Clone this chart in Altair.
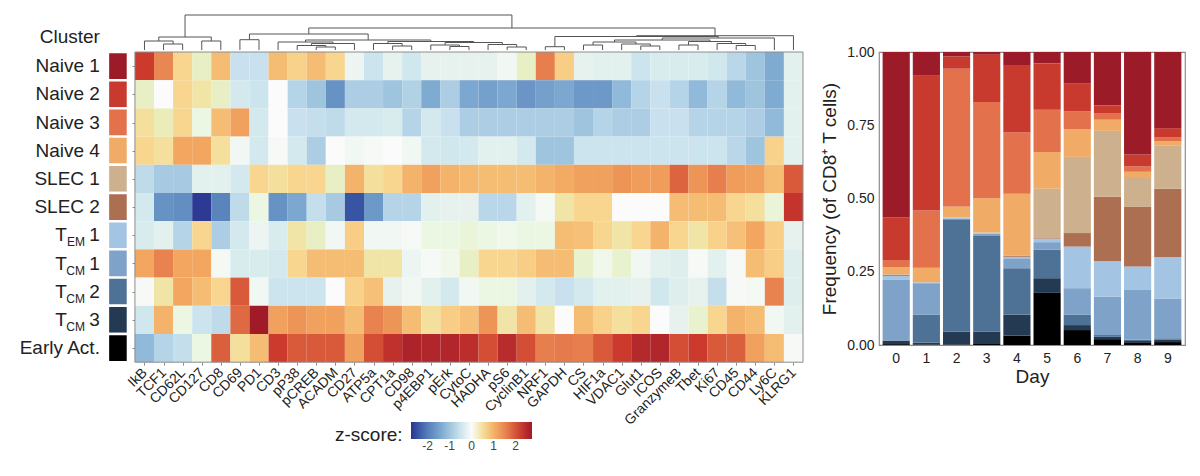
import altair as alt
import pandas as pd

FONT = "Liberation Sans"
INK = "#222222"
FRAME = "#8C8C8C"

# --- heatmap -----------------------------------------------------------------
MARKERS = ["IkB", "TCF1", "CD62L", "CD127", "CD8", "CD69", "PD1", "CD3", "pP38", "pCREB",
           "ACADM", "CD27", "ATP5a", "CPT1a", "CD98", "p4EBP1", "pErk", "CytoC", "HADHA",
           "pS6", "CyclinB1", "NRF1", "GAPDH", "CS", "HIF1a", "VDAC1", "Glut1", "ICOS",
           "GranzymeB", "Tbet", "Ki67", "CD45", "CD44", "Ly6C", "KLRG1"]

CLUSTERS = ["Naive 1", "Naive 2", "Naive 3", "Naive 4", "SLEC 1", "SLEC 2",
            "TEM 1", "TCM 1", "TCM 2", "TCM 3", "Early Act."]
CLUSTER_COLORS = ["#9B1B28", "#C73A2D", "#E2714C", "#F0AB66", "#CDB18F", "#AD6F51",
                  "#A4C4E4", "#7FA2C9", "#4E7196", "#243A53", "#000000"]
# row labels: main text + subscript (T_EM / T_CM)
LABEL_MAIN = ["Naive 1", "Naive 2", "Naive 3", "Naive 4", "SLEC 1", "SLEC 2",
              "1", "1", "2", "3", "Early Act."]
LABEL_SUB = ["", "", "", "", "", "", "EM", "CM", "CM", "CM", ""]

Z_NAIVE1 = [2.2, 1.5, 0.6, 0.3, 0.9, -0.55, -0.55, 0.9, 0.65, 0.9, 0.6, -0.15,
            -0.5, -0.2, -0.45, -0.2, -0.2, -0.2, -0.2, -0.1, 0.3, 1.6, 0.7, -0.2,
            -0.25, -0.25, -0.5, -0.35, -0.35, -0.35, -0.45, -0.7, -1.0, -1.35, -0.25]
Z_NAIVE2 = [0.3, 0.0, 0.6, 0.45, 0.3, -0.4, -0.5, 0.0, -0.75, -1.0, -1.7, -0.85,
            -0.85, -1.0, -0.8, -1.35, -0.85, -1.4, -1.5, -1.4, -1.65, -1.5, -1.4, -1.6,
            -1.6, -1.15, -0.75, -0.55, -0.75, -1.15, -0.75, -1.15, -1.0, -1.35, -0.25]
Z_NAIVE3 = [0.5, 0.35, 0.6, 0.15, 0.9, 1.2, -0.4, 0.0, -0.55, -0.6, -0.65, -0.4,
            -0.4, -0.35, -0.75, -0.4, -0.55, -0.85, -0.85, -0.85, -0.85, -0.85, -0.85, -1.0,
            -0.75, -0.85, -0.85, -0.55, -0.55, -0.75, -0.75, -0.75, -0.85, -1.15, -0.25]
Z_NAIVE4 = [0.6, 0.5, 1.15, 1.15, 0.5, -0.1, -0.4, -0.05, -0.4, -0.85, 0.0, -0.1,
            -0.05, 0.0, -0.1, -0.4, -0.45, -0.4, -0.25, -0.25, -0.4, -1.0, -1.0, -0.5,
            -0.5, -0.5, -0.5, -0.5, -0.5, -0.5, -0.5, -0.7, -1.0, 0.65, -0.25]
Z_SLEC1 = [-0.65, -0.9, -0.9, -0.25, -0.25, -0.4, 0.6, 0.5, 0.6, 0.6, 0.3, 1.0,
           0.5, 0.6, 1.0, 1.2, 1.0, 0.95, 0.9, 0.9, 0.9, 1.0, 1.1, 1.2,
           1.2, 1.35, 1.25, 1.25, 1.85, 1.35, 1.6, 1.25, 1.2, 0.9, 1.95]
Z_SLEC2 = [-0.4, -1.7, -1.75, -2.7, -1.9, -0.65, 0.15, -1.7, -1.4, -0.6, -0.9, -2.45,
           -1.6, -0.75, -0.75, -0.25, -0.2, -0.2, -0.7, -0.7, -0.25, 0.05, 0.45, 0.6,
           0.6, 0.0, 0.0, 0.0, 0.9, 0.9, 0.9, 0.6, 0.5, 0.2, 2.3]
Z_TEM1 = [-0.35, -0.25, -0.75, 0.6, -0.85, -0.4, -0.15, -0.35, 0.45, 0.3, -0.1, 0.7,
          -0.1, -0.1, -0.05, 0.15, 0.15, 0.2, 0.15, 0.1, 0.15, 0.15, 0.9, 0.85,
          0.6, 0.45, 0.6, 1.0, 0.6, 0.45, 0.65, 0.85, 1.15, 0.7, -0.2]
Z_TCM1 = [1.15, 1.55, 1.15, 1.15, 0.05, -0.35, -0.35, -0.4, 0.6, 0.9, 0.9, 0.9,
          0.45, 0.45, -0.15, 0.03, 0.1, 0.3, 0.6, 0.6, 0.7, 0.9, 0.9, 0.25,
          0.1, 0.25, -0.1, -0.25, -0.3, -0.05, -0.25, -0.05, 0.9, 0.7, -0.3]
Z_TCM2 = [-0.05, 0.45, 1.15, 0.9, 0.6, 1.95, -0.1, -0.5, -0.5, -0.5, 0.0, 0.65,
          0.85, -0.2, -0.1, -0.25, -0.4, -0.1, 0.15, 0.15, -0.25, -0.4, -0.55, -0.4,
          -0.25, -0.25, -0.2, -0.45, -0.3, -0.2, -0.6, -0.05, 0.05, 1.55, -0.3]
Z_TCM3 = [-0.45, 1.0, 0.15, -0.5, -0.65, 1.8, 2.75, 1.2, 1.35, 1.2, 1.2, 0.9,
          1.55, 1.35, 0.9, 0.5, 0.7, 0.85, 1.35, 0.45, 0.9, 0.45, 0.0, 0.9,
          0.65, 0.5, 0.6, 0.0, -0.2, 0.25, 0.6, 1.0, 0.9, -0.1, -0.25]
Z_EARLY = [-1.15, -0.75, -0.6, 0.15, 1.9, 0.5, 0.9, 2.2, 1.95, 1.95, 1.95, 1.2,
           2.05, 2.35, 2.6, 2.55, 2.55, 2.4, 2.05, 2.45, 2.05, 1.6, 1.65, 1.6,
           1.95, 2.2, 2.5, 2.55, 2.05, 2.2, 1.95, 1.9, 1.2, 0.9, -0.05]
Z_ROWS = [Z_NAIVE1, Z_NAIVE2, Z_NAIVE3, Z_NAIVE4, Z_SLEC1, Z_SLEC2,
          Z_TEM1, Z_TCM1, Z_TCM2, Z_TCM3, Z_EARLY]

# column dendrogram, linkage style: node ids >= 35 are earlier merges
DENDRO_LEFT = [1, 0, 3, 36, 5, 9, 8, 41, 7, 13, 12, 16, 15, 19, 18, 47, 45, 43, 39,
               21, 23, 26, 25, 55, 28, 31, 30, 59, 58, 63, 54, 65, 53, 38]
DENDRO_RIGHT = [2, 35, 4, 37, 6, 10, 40, 11, 42, 14, 44, 17, 46, 20, 48, 49, 50, 51, 52,
                22, 24, 27, 56, 57, 29, 32, 60, 61, 62, 33, 64, 34, 66, 67]
DENDRO_HEIGHT = [6, 9, 9, 13, 10.3, 3, 4.5, 6.5, 8, 4, 6.5, 3.5, 5, 3, 5.5, 7.5, 8.5, 10, 16,
                 3.3, 5, 4, 6, 8, 5, 4.5, 6.5, 8.5, 10, 12, 13.5, 14.3, 22, 35]

# colour scale stops (blue - white - red)
Z_STOPS = [-2.75, -2.2, -1.65, -1.1, -0.55, 0, 0.55, 1.1, 1.65, 2.2, 2.75]
Z_COLORS = ["#2B3490", "#4A6FB0", "#6A95C6", "#95BDDB", "#C9E1EE", "#FAFBFA",
            "#FADA95", "#F3AA63", "#E57A4D", "#CC3A2E", "#A01A28"]

# --- stacked bars ------------------------------------------------------------
DAYS = [0, 1, 2, 3, 4, 5, 6, 7, 8, 9]
F_EARLY = [0.003, 0.002, 0.002, 0.003, 0.032, 0.178, 0.051, 0.020, 0.009, 0.010]
F_TCM3 = [0.011, 0.006, 0.044, 0.043, 0.071, 0.050, 0.017, 0.008, 0.005, 0.008]
F_TCM2 = [0.002, 0.095, 0.383, 0.326, 0.159, 0.097, 0.035, 0.006, 0.004, 0.005]
F_TCM1 = [0.206, 0.108, 0.003, 0.008, 0.034, 0.026, 0.091, 0.131, 0.170, 0.136]
F_TEM1 = [0.014, 0.003, 0.002, 0.003, 0.005, 0.012, 0.142, 0.121, 0.080, 0.141]
F_SLEC2 = [0.004, 0.000, 0.000, 0.000, 0.004, 0.002, 0.046, 0.220, 0.205, 0.233]
F_SLEC1 = [0.001, 0.000, 0.001, 0.001, 0.002, 0.168, 0.260, 0.225, 0.100, 0.147]
F_NAIVE4 = [0.024, 0.050, 0.038, 0.117, 0.209, 0.126, 0.095, 0.038, 0.018, 0.015]
F_NAIVE3 = [0.025, 0.195, 0.470, 0.328, 0.209, 0.144, 0.060, 0.021, 0.018, 0.013]
F_NAIVE2 = [0.146, 0.460, 0.042, 0.162, 0.228, 0.158, 0.095, 0.028, 0.041, 0.032]
F_NAIVE1 = [0.564, 0.081, 0.015, 0.009, 0.047, 0.039, 0.108, 0.182, 0.350, 0.260]
# bottom of the stack first
F_STACK = [("Early Act.", F_EARLY), ("TCM 3", F_TCM3), ("TCM 2", F_TCM2),
           ("TCM 1", F_TCM1), ("TEM 1", F_TEM1), ("SLEC 2", F_SLEC2), ("SLEC 1", F_SLEC1),
           ("Naive 4", F_NAIVE4), ("Naive 3", F_NAIVE3), ("Naive 2", F_NAIVE2),
           ("Naive 1", F_NAIVE1)]

# --- layout --------------------------------------------------------------------
UNIT_X = 19.088
UNIT_Y = 28.2
X_MIN = -6.65
LABEL_X = -1.834
SW_X0, SW_X1 = -1.414, -0.367

n_col, n_row = len(MARKERS), len(CLUSTERS)
HEAT_W = round((n_col - X_MIN) * UNIT_X)
HEAT_H = round(n_row * UNIT_Y, 1)

heat_df = pd.DataFrame([
    {"x": c, "x2": c + 1, "y": r, "y2": r + 1, "z": v, "marker": MARKERS[c], "cluster": CLUSTERS[r]}
    for r, row in enumerate(Z_ROWS) for c, v in enumerate(row)
])
lab_df = pd.DataFrame({"y": [r + 0.5 for r in range(n_row)], "y0": list(range(n_row)),
                       "y1": [r + 1 for r in range(n_row)], "main": LABEL_MAIN,
                       "sub": LABEL_SUB, "hex": CLUSTER_COLORS})
sub_df = lab_df[lab_df["sub"] != ""]


def dendro_segments():
    xs = {i: i + 0.5 for i in range(n_col)}
    hs = {i: 0.0 for i in range(n_col)}
    segs = []
    for k, (a, b, h) in enumerate(zip(DENDRO_LEFT, DENDRO_RIGHT, DENDRO_HEIGHT)):
        segs.append((xs[a], xs[a], hs[a], h))
        segs.append((xs[b], xs[b], hs[b], h))
        segs.append((xs[a], xs[b], h, h))
        xs[n_col + k] = (xs[a] + xs[b]) / 2
        hs[n_col + k] = h
    return pd.DataFrame(segs, columns=["x", "x2", "h", "h2"])


SX = alt.Scale(domain=[X_MIN, n_col], nice=False, zero=False)
SY = alt.Scale(domain=[0, n_row], nice=False, zero=False, reverse=True)
label_expr = "[" + ",".join(f"'{m}'" for m in MARKERS) + "][floor(datum.value)]"
AX_X = alt.Axis(values=[c + 0.5 for c in range(n_col)], labelExpr=label_expr, labelAngle=-45,
                labelAlign="right", labelBaseline="middle", labelFontSize=14, labelColor=INK,
                labelPadding=5, domain=False, ticks=True, tickSize=3, tickColor=FRAME,
                grid=False, title=None, labelOverlap=False)
AX_Y = alt.Axis(values=[r + 0.5 for r in range(n_row)], labels=False, domain=False, ticks=True,
                tickSize=3, tickColor=FRAME, grid=False, title=None, orient="left",
                offset=-round(-X_MIN * UNIT_X))
Z_SCALE = alt.Scale(domain=Z_STOPS, range=Z_COLORS)

cells = alt.Chart(heat_df).mark_rect().encode(
    x=alt.X("x:Q", scale=SX, axis=AX_X), x2="x2:Q",
    y=alt.Y("y:Q", scale=SY, axis=AX_Y), y2="y2:Q",
    color=alt.Color("z:Q", scale=Z_SCALE, legend=alt.Legend(
        type="gradient", title="z-score:", orient="none", legendX=327, legendY=370,
        direction="horizontal", gradientLength=121, gradientThickness=17, titleOrient="left",
        titleFontSize=19, titleFontWeight="normal", titleColor=INK, titlePadding=8,
        titleBaseline="line-top", titleLineHeight=9, labelFontSize=12, labelColor="#444444",
        values=[-2, -1, 0, 1, 2], labelExpr="'' + datum.value")),
    tooltip=["cluster:N", "marker:N", alt.Tooltip("z:Q", format=".2f")],
)
frame = alt.Chart(pd.DataFrame({"a": [0]})).mark_rect(fillOpacity=0, stroke=FRAME, strokeWidth=1).encode(
    x=alt.datum(0, scale=SX, axis=AX_X), x2=alt.datum(n_col),
    y=alt.datum(0, scale=SY, axis=AX_Y), y2=alt.datum(n_row),
)
swatches = alt.Chart(lab_df).mark_rect(stroke="white", strokeWidth=2.4).encode(
    x=alt.datum(SW_X0, scale=SX, axis=AX_X), x2=alt.datum(SW_X1),
    y=alt.Y("y0:Q", scale=SY, axis=AX_Y), y2="y1:Q",
    fill=alt.Fill("hex:N", scale=None),
)
txt = dict(font=FONT, fontSize=19, color=INK, align="right", baseline="middle")
names = alt.Chart(lab_df).mark_text(**txt).encode(
    x=alt.datum(LABEL_X, scale=SX, axis=AX_X),
    y=alt.Y("y:Q", scale=SY, axis=AX_Y), text="main:N",
)
subs = alt.Chart(sub_df).mark_text(font=FONT, fontSize=12, color=INK, align="right",
                                   baseline="middle", dx=-15, dy=7).encode(
    x=alt.datum(LABEL_X, scale=SX, axis=AX_X),
    y=alt.Y("y:Q", scale=SY, axis=AX_Y), text="sub:N",
)
tees = alt.Chart(sub_df).mark_text(dx=-33, **txt).encode(
    x=alt.datum(LABEL_X, scale=SX, axis=AX_X),
    y=alt.Y("y:Q", scale=SY, axis=AX_Y), text=alt.value("T"),
)
header = alt.Chart(pd.DataFrame({"a": [0]})).mark_text(**txt).encode(
    x=alt.datum(LABEL_X, scale=SX, axis=AX_X),
    y=alt.datum(-0.53, scale=SY, axis=AX_Y), text=alt.value("Cluster"),
)
# dendrogram sits above the heatmap, on its own height scale (pixels above the top edge)
tree = alt.Chart(dendro_segments()).mark_rule(color="#555555", strokeWidth=1).encode(
    x=alt.X("x:Q", scale=SX, axis=AX_X), x2="x2:Q",
    y=alt.Y("h:Q", scale=alt.Scale(domain=[0, 35], range=[-2, -37], nice=False, zero=False),
            axis=None),
    y2="h2:Q",
)

main = alt.layer(cells, frame, swatches, names, subs, tees, header)
left = alt.layer(main, tree).resolve_scale(y="independent").properties(
    width=HEAT_W, height=HEAT_H)

# --- right panel -----------------------------------------------------------------
bar_rows = []
for i, (name, vals) in enumerate(F_STACK):
    hexcol = CLUSTER_COLORS[CLUSTERS.index(name)]
    for d, v in zip(DAYS, vals):
        bar_rows.append({"day": d, "cluster": name, "freq": v, "hex": hexcol, "stack": i})
bar_df = pd.DataFrame(bar_rows)

right = alt.Chart(bar_df).mark_bar().encode(
    x=alt.X("day:O", scale=alt.Scale(paddingInner=0.1, paddingOuter=0.12),
            axis=alt.Axis(title="Day", labelAngle=0, labelFontSize=14, labelColor=INK,
                          titleFontSize=19, titleFontWeight="normal", titleColor=INK,
                          titlePadding=2, labelPadding=6, domain=False, ticks=False)),
    y=alt.Y("freq:Q", stack="zero", scale=alt.Scale(domain=[0, 1], nice=False),
            axis=alt.Axis(title="Frequency (of CD8\u207a T cells)", values=[0, 0.25, 0.5, 0.75, 1],
                          format=".2f", labelFontSize=14, labelColor=INK, titleFontSize=19,
                          titleFontWeight="normal", titleColor=INK, titlePadding=7,
                          labelPadding=5, domain=False, ticks=False, grid=False)),
    fill=alt.Fill("hex:N", scale=None),
    detail="cluster:N",
    order=alt.Order("stack:Q", sort="ascending"),
    tooltip=["day:O", "cluster:N", alt.Tooltip("freq:Q", format=".3f")],
).properties(width=306, height=293, view=alt.ViewBackground(stroke=FRAME, strokeWidth=1.2))

chart = alt.hconcat(left, right, spacing=16).properties(
    padding={"left": 0, "top": 6, "right": 0, "bottom": 0}
).configure(font=FONT).configure_view(stroke=None)
chart.save("out.html", embed_options={"renderer": "svg", "actions": False})
